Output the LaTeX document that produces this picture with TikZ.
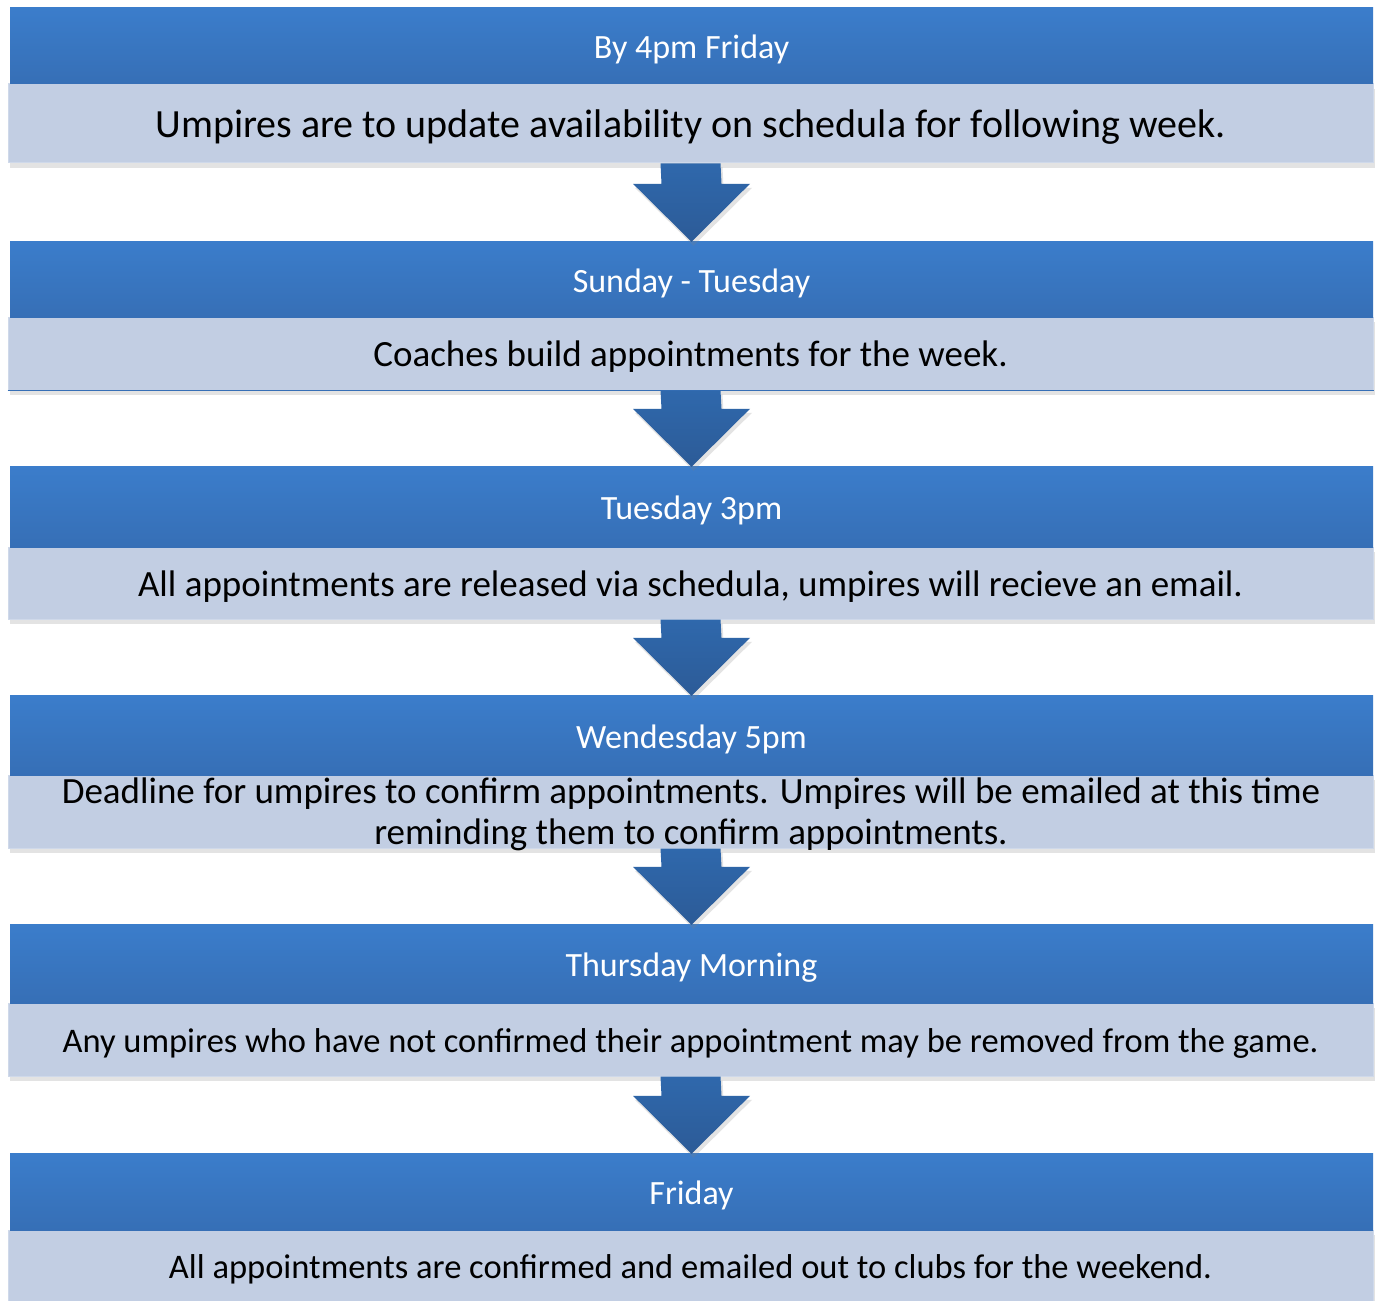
\documentclass[tikz,border=0pt]{standalone}
\usepackage{fontspec}
\setmainfont{Carlito}
\usetikzlibrary{calc,shadows}
\definecolor{hdtop}{HTML}{3B7DCB}
\definecolor{hdbot}{HTML}{366FB6}
\definecolor{bodyfill}{HTML}{C2CEE3}
\definecolor{bodyedge}{HTML}{CFD9EA}
\definecolor{arrtop}{HTML}{2F68AC}
\definecolor{arrbot}{HTML}{2C5B97}
\tikzset{
  header/.style={rectangle, minimum width=1363pt, inner sep=0pt, top color=hdtop, bottom color=hdbot, text=white,
    font=\fontsize{34}{40}\selectfont, text height=26pt, text depth=0pt},
  bodybox/.style={rectangle, minimum width=1365pt, inner sep=0pt, fill=bodyfill, draw=bodyedge, line width=1pt, align=center,
    drop shadow={shadow xshift=2pt, shadow yshift=-5pt, opacity=0.22}},
  bodyL/.style={bodybox, font=\fontsize{40}{46}\selectfont, text height=28pt, text depth=0pt},
  bodyM/.style={bodybox, font=\fontsize{37}{42}\selectfont, text height=26.5pt, text depth=0pt},
  bodyS/.style={bodybox, font=\fontsize{34.5}{40}\selectfont, text height=25pt, text depth=0pt},
  blockarrow/.style={top color=arrtop, bottom color=arrbot, draw=none,
    drop shadow={shadow xshift=2pt, shadow yshift=-4pt, opacity=0.22}},
}
\newcommand{\blockarr}[2]{%
  \path[blockarrow] ($(#1.south)+(-30,0)$) -- ($(#1.south)+(30,0)$) -- ($(#2.north)+(30,-57)$) -- ($(#2.north)+(58.5,-57)$) -- ($(#2.north)+(0,1)$) -- ($(#2.north)+(-58.5,-57)$) -- ($(#2.north)+(-30,-57)$) -- cycle;}
\begin{document}
\begin{tikzpicture}[x=1pt,y=-1pt]
\useasboundingbox[fill=white] (0,0) rectangle (1380,1300);
% block 1
\node[bodyL, minimum height=79pt] (b1) at (690.5,123.5) {Umpires are to update availability on schedula for following week.};
\node[header, minimum height=76pt] (h1) at (691.5,46) {By 4pm Friday};
% block 2
\node[bodyM, minimum height=73pt] (b2) at (690.5,353.5) {Coaches build appointments for the week.};
\node[header, minimum height=76pt] (h2) at (691.5,279) {Sunday - Tuesday};
\draw[hdbot, line width=1.5pt] (b2.south west) -- (b2.south east);
% block 3
\node[bodyM, minimum height=72pt] (b3) at (690.5,583) {All appointments are released via schedula, umpires will recieve an email.};
\node[header, minimum height=81pt] (h3) at (691.5,506.5) {Tuesday 3pm};
% block 4
\node[bodybox, minimum height=73pt] (b4) at (690.5,811.5) {};
\node[header, minimum height=80pt] (h4) at (691.5,735) {Wendesday 5pm};
\node[align=center, inner sep=0pt, font=\fontsize{37}{41}\selectfont] (t4) at (691,814) {Deadline for umpires to confirm appointments. Umpires will be emailed at this time\\reminding them to confirm appointments.};
% block 5
\node[bodyS, minimum height=73pt] (b5) at (690.5,1039.5) {Any umpires who have not confirmed their appointment may be removed from the game.};
\node[header, minimum height=79pt] (h5) at (691.5,963.5) {Thursday Morning};
% block 6
\node[bodyS, minimum height=72pt] (b6) at (690.5,1266) {All appointments are confirmed and emailed out to clubs for the weekend.};
\node[header, minimum height=77pt] (h6) at (691.5,1191.5) {Friday};
% arrows
\blockarr{b1}{h2}
\blockarr{b2}{h3}
\blockarr{b3}{h4}
\blockarr{b4}{h5}
\blockarr{b5}{h6}
\end{tikzpicture}
\end{document}
